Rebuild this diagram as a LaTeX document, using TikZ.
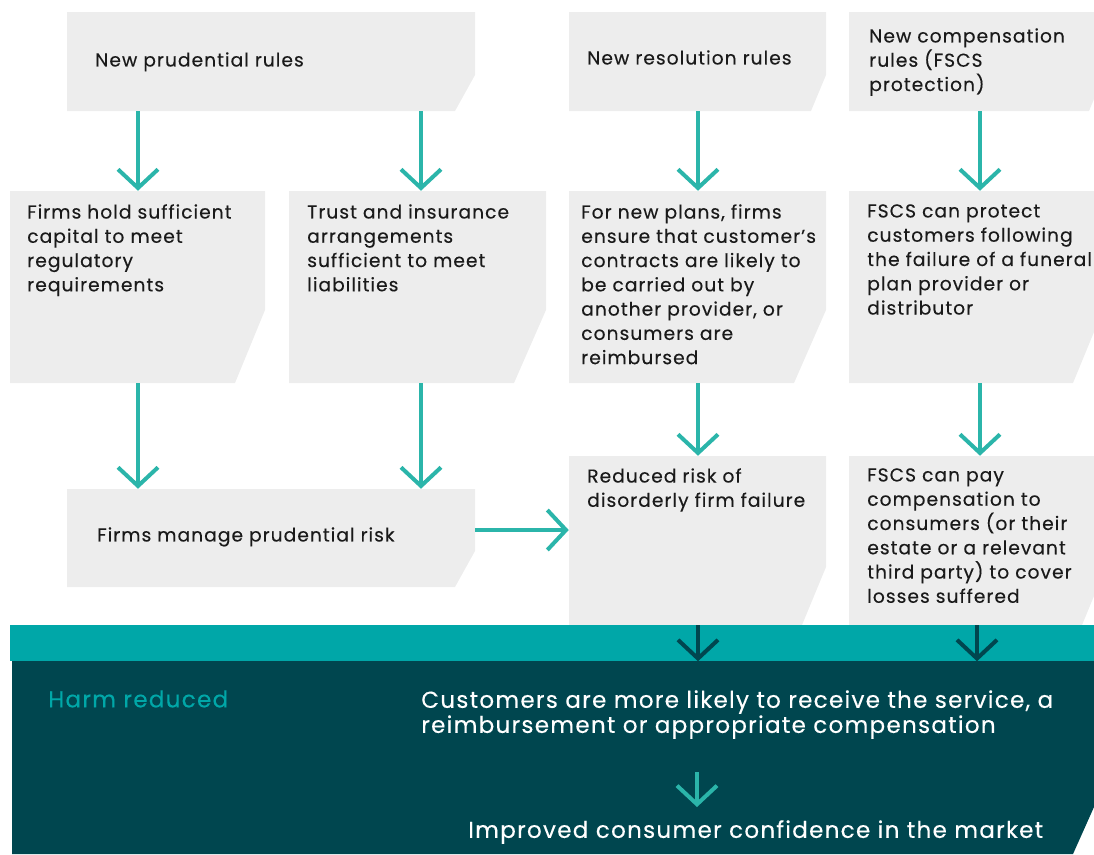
\documentclass[tikz,border=0pt]{standalone}
\usepackage{fontspec}
\setmainfont{Poppins}[LetterSpace=5.5,FakeBold=0.25]
\usetikzlibrary{arrows.meta,fit}
\definecolor{boxgray}{HTML}{EDEDED}
\definecolor{arrteal}{HTML}{2BB5AA}
\definecolor{bandteal}{HTML}{00A7A8}
\definecolor{darkteal}{HTML}{00464F}
\definecolor{txt}{HTML}{1A1A1A}
\newcommand\cutbox[7]{%
  \fill[boxgray] (#2,#3) -- (#4,#3) -- (#4,#5-#7) -- (#4-#6,#5) -- (#2,#5) -- cycle;
  \node[fit={(#2,#3) (#4,#5)}, inner sep=0pt] (#1) {};
}
\begin{document}
\begin{tikzpicture}[x=0.75pt,y=-0.75pt,
  boxtext/.style={anchor=north west, inner sep=0pt, align=left,
    font=\fontsize{14}{18.2}\selectfont, text=txt},
  bigtext/.style={anchor=north west, inner sep=0pt, align=left,
    font=\fontsize{17.3}{18.8}\selectfont, text=white},
  arr/.style={draw=arrteal, line width=3pt,
    -{Straight Barb[length=14pt,width=30pt]}},
  darkarr/.style={draw=darkteal, line width=3pt,
    -{Straight Barb[length=14pt,width=30pt]}}]
\useasboundingbox (0,0) rectangle (1094,854);

% row 1
\cutbox{A}{67}{12}{475}{111}{20}{36}
\cutbox{B}{569}{12}{826}{111}{15}{36}
\fill[boxgray] (849,12) -- (1094,12) -- (1094,99) -- (1089,111) -- (849,111) -- cycle;
\node[fit={(849,12) (1094,111)}, inner sep=0pt] (C) {};

% row 2
\cutbox{D}{10}{191}{265}{383}{30}{73}
\cutbox{E}{289}{191}{546}{383}{32}{73}
\cutbox{F}{569}{191}{826}{383}{32}{73}
\fill[boxgray] (849,191) -- (1094,191) -- (1094,332) -- (1073,383) -- (849,383) -- cycle;
\node[fit={(849,191) (1094,383)}, inner sep=0pt] (G) {};

% row 3
\cutbox{H}{67}{489}{475}{587}{20}{36}
\cutbox{I}{569}{456}{826}{625}{24}{58}
\fill[boxgray] (849,456) -- (1094,456) -- (1094,596) -- (1082,625) -- (849,625) -- cycle;
\node[fit={(849,456) (1094,625)}, inner sep=0pt] (J) {};

% bands
\fill[bandteal] (10,625) rectangle (1094,661);
\node[fit={(10,625) (1094,661)}, inner sep=0pt] (band) {};
\fill[darkteal] (12,661) -- (1094,661) -- (1094,807) -- (1073,854) -- (12,854) -- cycle;
\node[fit={(12,661) (1094,854)}, inner sep=0pt] (harm) {};

% texts
\node[boxtext] (tA) at (95,52) {New prudential rules};
\node[boxtext] (tB) at (587,50) {New resolution rules};
\node[boxtext] (tC) at (869,28) {New compensation\\rules (FSCS\\protection)};
\node[boxtext] (tD) at (27,204) {Firms hold sufficient\\capital to meet\\regulatory\\requirements};
\node[boxtext] (tE) at (307,204) {Trust and insurance\\arrangements\\sufficient to meet\\liabilities};
\node[boxtext] (tF) at (581,204) {For new plans, firms\\ensure that customer’s\\contracts are likely to\\be carried out by\\another provider, or\\consumers are\\reimbursed};
\node[boxtext] (tG) at (867,204) {FSCS can protect\\customers following\\the failure of a funeral\\plan provider or\\distributor};
\node[boxtext] (tH) at (97,527) {Firms manage prudential risk};
\node[boxtext] (tI) at (587,468) {Reduced risk of\\disorderly firm failure};
\node[boxtext] (tJ) at (867,468) {FSCS can pay\\compensation to\\consumers (or their\\estate or a relevant\\third party) to cover\\losses suffered};
\node[bigtext, text=bandteal] (tHarm) at (48,690) {Harm reduced};
\node[bigtext] (cust) at (421,690) {Customers are more likely to receive the service, a\\reimbursement or appropriate compensation};
\node[bigtext] (impr) at (468,820) {Improved consumer confidence in the market};

% connectors
\draw[arr] (A.south -| 138,0) -- (D.north -| 138,0);
\draw[arr] (A.south -| 421,0) -- (E.north -| 421,0);
\draw[arr] (B.south -| 698,0) -- (F.north -| 698,0);
\draw[arr] (C.south -| 980,0) -- (G.north -| 980,0);
\draw[arr] (D.south -| 138,0) -- (H.north -| 138,0);
\draw[arr] (E.south -| 421,0) -- (H.north -| 421,0);
\draw[arr] (F.south -| 698,0) -- (I.north -| 698,0);
\draw[arr] (G.south -| 980,0) -- (J.north -| 980,0);
\draw[arr] (H.east |- 0,530) -- (I.west |- 0,530);
\draw[darkarr] (I.south -| 698,0) -- (band.south -| 698,0);
\draw[darkarr] (J.south -| 977,0) -- (band.south -| 977,0);
\coordinate (c1) at (697,772);
\coordinate (c2) at (697,807);
\draw[arr] (c1) -- (c2);
\end{tikzpicture}
\end{document}
